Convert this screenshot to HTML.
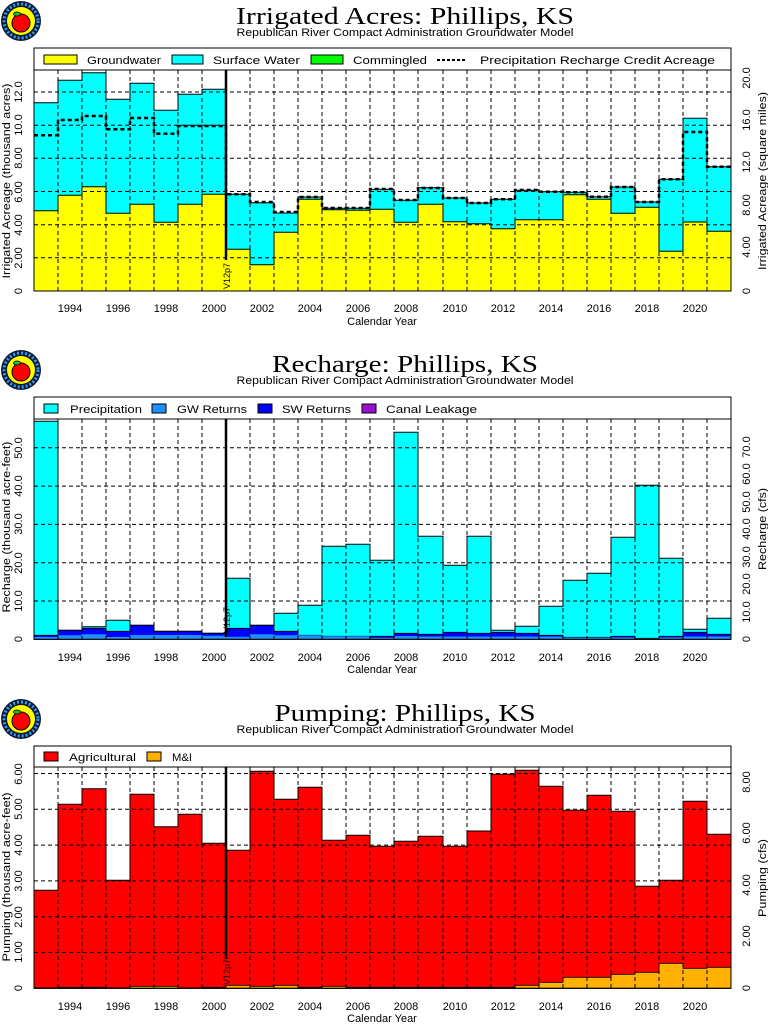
<!DOCTYPE html>
<html><head><meta charset="utf-8"><style>
html,body{margin:0;padding:0;background:#fff}
svg{display:block}
text{font-family:"Liberation Sans",sans-serif;fill:#000}
.t{font-family:"Liberation Serif",serif;font-size:24px}
.s{font-size:11px}
.k{font-size:11px}
.g{stroke:#000;stroke-width:1;stroke-dasharray:4,3;fill:none}
</style></head><body>
<svg width="768" height="1024" viewBox="0 0 768 1024" xmlns="http://www.w3.org/2000/svg">
<defs>
<g id="logo">
<circle cx="0" cy="0" r="20" fill="#101830"/>
<circle cx="0" cy="0" r="17" fill="none" stroke="#2aa0ff" stroke-width="3" stroke-dasharray="2,2"/>
<circle cx="0" cy="0" r="14" fill="#ffff00"/>
<circle cx="0" cy="2" r="9" fill="#ff0000" stroke="#000" stroke-width="1"/>
<ellipse cx="-4" cy="-7" rx="3.5" ry="2" fill="#20c020" stroke="#000" stroke-width="0.8"/>
</g>
</defs>

<!-- ========== CHART 1 ========== -->
<use href="#logo" x="21" y="21"/>
<text class="t" x="405" y="24" text-anchor="middle" textLength="338" lengthAdjust="spacingAndGlyphs">Irrigated Acres: Phillips, KS</text>
<text class="s" x="405" y="36" text-anchor="middle" textLength="337" lengthAdjust="spacingAndGlyphs">Republican River Compact Administration Groundwater Model</text>
<rect x="34" y="48" width="697" height="22" fill="#fff" stroke="#000"/>
<rect x="44" y="55" width="33" height="9" fill="#ffff00" stroke="#000"/>
<text class="k" x="87" y="64" textLength="74" lengthAdjust="spacingAndGlyphs">Groundwater</text>
<rect x="172" y="55" width="31" height="9" fill="#00ffff" stroke="#000"/>
<text class="k" x="213" y="64" textLength="87" lengthAdjust="spacingAndGlyphs">Surface Water</text>
<rect x="311" y="55" width="32" height="9" fill="#00ff00" stroke="#000"/>
<text class="k" x="353" y="64" textLength="74" lengthAdjust="spacingAndGlyphs">Commingled</text>
<line x1="437" y1="60" x2="467" y2="60" stroke="#000" stroke-width="2" stroke-dasharray="3,2"/>
<text class="k" x="480" y="64" textLength="235" lengthAdjust="spacingAndGlyphs">Precipitation Recharge Credit Acreage</text>

<path d="M34,291 V102.7 H58 V80.3 H82 V72.7 H106 V99.3 H130 V83.3 H154 V110.3 H178 V94.3 H202 V89.3 H226 V194.3 H250 V202.7 H274 V213 H298 V197 H322 V208.3 H346 V208.3 H370 V189.3 H394 V200.3 H418 V187.7 H443 V198 H467 V203 H491 V199.3 H515 V190.3 H539 V191.7 H563 V192.3 H587 V196.7 H611 V187 H635 V202 H659 V179.3 H683 V118.3 H707 V166.7 H731 V291 Z" fill="#00ffff" stroke="#000"/>
<path d="M34,291 V210.7 H58 V195.3 H82 V186.7 H106 V213.3 H130 V204.3 H154 V222.3 H178 V204.3 H202 V194.3 H226 V249.3 H250 V264.7 H274 V232.3 H298 V199.3 H322 V209.7 H346 V210.3 H370 V209.3 H394 V222.3 H418 V204.3 H443 V221.7 H467 V223.7 H491 V228.7 H515 V219.7 H539 V219.7 H563 V194.7 H587 V199.3 H611 V213.3 H635 V207.3 H659 V251.3 H683 V222 H707 V231.3 H731 V291 Z" fill="#ffff00" stroke="#000"/>
<g class="g">
<path d="M34,257.8H731M34,224.7H731M34,191.5H731M34,158.3H731M34,125.2H731M34,92H731"/>
<path d="M58,70V291M82,70V291M106,70V291M130,70V291M154,70V291M178,70V291M202,70V291M250,70V291M274,70V291M298,70V291M322,70V291M346,70V291M370,70V291M394,70V291M418,70V291M443,70V291M467,70V291M491,70V291M515,70V291M539,70V291M563,70V291M587,70V291M611,70V291M635,70V291M659,70V291M683,70V291M707,70V291"/>
</g>
<path d="M34,135.3 H58 V120 H82 V116 H106 V129.3 H130 V118 H154 V133.7 H178 V126 H226 V194.3 H250 V202 H274 V212 H298 V197 H322 V208 H370 V189 H394 V200 H418 V188 H443 V198 H467 V203 H491 V199.3 H515 V190 H539 V191.7 H563 V192.3 H587 V196.7 H611 V187 H635 V202 H659 V179.3 H683 V132 H707 V166.7 H731" fill="none" stroke="#000" stroke-width="2.5" stroke-dasharray="4,3"/>
<line x1="226" y1="70" x2="226" y2="260" stroke="#000" stroke-width="2.5"/>
<text x="230" y="276" font-size="9" text-anchor="middle" transform="rotate(-90 230 276)">V12p7</text>
<path d="M34,70V291M731,70V291" stroke="#000"/>
<g class="k" text-anchor="middle">
<text x="70" y="312">1994</text><text x="118" y="312">1996</text><text x="166" y="312">1998</text><text x="214" y="312">2000</text><text x="262" y="312">2002</text><text x="310" y="312">2004</text><text x="358" y="312">2006</text><text x="406" y="312">2008</text><text x="455" y="312">2010</text><text x="503" y="312">2012</text><text x="551" y="312">2014</text><text x="599" y="312">2016</text><text x="647" y="312">2018</text><text x="695" y="312">2020</text>
<text x="382" y="325">Calendar Year</text>
<text transform="translate(22,291) rotate(-90)">0</text>
<text transform="translate(22,258) rotate(-90)">2.00</text>
<text transform="translate(22,225) rotate(-90)">4.00</text>
<text transform="translate(22,192) rotate(-90)">6.00</text>
<text transform="translate(22,158) rotate(-90)">8.00</text>
<text transform="translate(22,125) rotate(-90)">10.0</text>
<text transform="translate(22,92) rotate(-90)">12.0</text>
<text transform="translate(10,181) rotate(-90)" textLength="195" lengthAdjust="spacingAndGlyphs">Irrigated Acreage (thousand acres)</text>
<text transform="translate(750,291) rotate(-90)">0</text>
<text transform="translate(750,247) rotate(-90)">4.00</text>
<text transform="translate(750,205) rotate(-90)">8.00</text>
<text transform="translate(750,162) rotate(-90)">12.0</text>
<text transform="translate(750,120) rotate(-90)">16.0</text>
<text transform="translate(750,78) rotate(-90)">20.0</text>
<text transform="translate(766,181) rotate(-90)" textLength="178" lengthAdjust="spacingAndGlyphs">Irrigated Acreage (square miles)</text>
</g>

<!-- ========== CHART 2 ========== -->
<use href="#logo" x="21" y="370"/>
<text class="t" x="405" y="372" text-anchor="middle" textLength="266" lengthAdjust="spacingAndGlyphs">Recharge: Phillips, KS</text>
<text class="s" x="405" y="384" text-anchor="middle" textLength="337" lengthAdjust="spacingAndGlyphs">Republican River Compact Administration Groundwater Model</text>
<rect x="34" y="397" width="697" height="22" fill="#fff" stroke="#000"/>
<rect x="44" y="404" width="14" height="9" fill="#00ffff" stroke="#000"/>
<text class="k" x="70" y="413" textLength="72" lengthAdjust="spacingAndGlyphs">Precipitation</text>
<rect x="152" y="404" width="14" height="9" fill="#1e90ff" stroke="#000"/>
<text class="k" x="177" y="413" textLength="70" lengthAdjust="spacingAndGlyphs">GW Returns</text>
<rect x="258" y="404" width="14" height="9" fill="#0000ff" stroke="#000"/>
<text class="k" x="282" y="413" textLength="69" lengthAdjust="spacingAndGlyphs">SW Returns</text>
<rect x="362" y="404" width="14" height="9" fill="#9a10d0" stroke="#000"/>
<text class="k" x="386" y="413" textLength="91" lengthAdjust="spacingAndGlyphs">Canal Leakage</text>

<path d="M34,639.3 V421.3 H58 V630.3 H82 V626.7 H106 V620.3 H130 V625.3 H154 V631.3 H178 V631.3 H202 V633.3 H226 V578.3 H250 V625.3 H274 V613.3 H298 V605.3 H322 V546.3 H346 V544.3 H370 V560.3 H394 V432.3 H418 V536.3 H443 V565.3 H467 V536.3 H491 V630.3 H515 V626.3 H539 V606.3 H563 V580.3 H587 V573.3 H611 V537.3 H635 V485.3 H659 V558.3 H683 V629.3 H707 V618.3 H731 V639.3 Z" fill="#00ffff" stroke="#000"/>
<path d="M34,639.3 V635.3 H58 V630.3 H82 V628.3 H106 V631.3 H130 V625.3 H154 V631.3 H178 V631.3 H202 V633.3 H226 V628.3 H250 V625.3 H274 V631.3 H298 V635.3 H322 V636.3 H370 V636.3 H394 V633.3 H418 V634.3 H443 V632.3 H467 V633.3 H491 V632.3 H515 V633.3 H539 V635.3 H563 V637.3 H611 V636.3 H635 V638.3 H659 V636.3 H683 V632.3 H707 V634.3 H731 V639.3 Z" fill="#0000ff" stroke="#000" stroke-width="0.8"/>
<path d="M34,639.3 V637 H58 V635.3 H82 V634.3 H106 V637 H130 V635 H202 V635.7 H226 V636.7 H250 V634.3 H274 V635.3 H322 V636.3 H370 V637.7 H394 V636 H418 V636.5 H563 V637.5 H635 V638.5 H659 V637.5 H683 V636.5 H731 V639.3 Z" fill="#1e90ff"/>
<g class="g">
<path d="M34,601H731M34,562.7H731M34,524.4H731M34,486.1H731M34,447.8H731"/>
<path d="M58,419V639M82,419V639M106,419V639M130,419V639M154,419V639M178,419V639M202,419V639M250,419V639M274,419V639M298,419V639M322,419V639M346,419V639M370,419V639M394,419V639M418,419V639M443,419V639M467,419V639M491,419V639M515,419V639M539,419V639M563,419V639M587,419V639M611,419V639M635,419V639M659,419V639M683,419V639M707,419V639"/>
</g>
<line x1="226" y1="419" x2="226" y2="637" stroke="#000" stroke-width="2.5"/>
<text x="230" y="620" font-size="9" text-anchor="middle" transform="rotate(-90 230 620)">V12p7</text>
<path d="M34,419V639.3H731V419" stroke="#000" fill="none"/>
<g class="k" text-anchor="middle">
<text x="70" y="661">1994</text><text x="118" y="661">1996</text><text x="166" y="661">1998</text><text x="214" y="661">2000</text><text x="262" y="661">2002</text><text x="310" y="661">2004</text><text x="358" y="661">2006</text><text x="406" y="661">2008</text><text x="455" y="661">2010</text><text x="503" y="661">2012</text><text x="551" y="661">2014</text><text x="599" y="661">2016</text><text x="647" y="661">2018</text><text x="695" y="661">2020</text>
<text x="382" y="673">Calendar Year</text>
<text transform="translate(22,639) rotate(-90)">0</text>
<text transform="translate(22,601) rotate(-90)">10.0</text>
<text transform="translate(22,563) rotate(-90)">20.0</text>
<text transform="translate(22,524) rotate(-90)">30.0</text>
<text transform="translate(22,486) rotate(-90)">40.0</text>
<text transform="translate(22,448) rotate(-90)">50.0</text>
<text transform="translate(10,527) rotate(-90)" textLength="171" lengthAdjust="spacingAndGlyphs">Recharge (thousand acre-feet)</text>
<text transform="translate(750,639) rotate(-90)">0</text>
<text transform="translate(750,612) rotate(-90)">10.0</text>
<text transform="translate(750,584) rotate(-90)">20.0</text>
<text transform="translate(750,557) rotate(-90)">30.0</text>
<text transform="translate(750,529) rotate(-90)">40.0</text>
<text transform="translate(750,502) rotate(-90)">50.0</text>
<text transform="translate(750,474) rotate(-90)">60.0</text>
<text transform="translate(750,447) rotate(-90)">70.0</text>
<text transform="translate(766,529) rotate(-90)" textLength="82" lengthAdjust="spacingAndGlyphs">Recharge (cfs)</text>
</g>

<!-- ========== CHART 3 ========== -->
<use href="#logo" x="21" y="719"/>
<text class="t" x="405" y="721" text-anchor="middle" textLength="261" lengthAdjust="spacingAndGlyphs">Pumping: Phillips, KS</text>
<text class="s" x="405" y="733" text-anchor="middle" textLength="337" lengthAdjust="spacingAndGlyphs">Republican River Compact Administration Groundwater Model</text>
<rect x="34" y="746" width="697" height="21" fill="#fff" stroke="#000"/>
<rect x="44" y="752" width="14" height="9" fill="#ff0000" stroke="#000"/>
<text class="k" x="69" y="761" textLength="67" lengthAdjust="spacingAndGlyphs">Agricultural</text>
<rect x="147" y="752" width="14" height="9" fill="#ffb000" stroke="#000"/>
<text class="k" x="172" y="761" textLength="20" lengthAdjust="spacingAndGlyphs">M&amp;I</text>

<path d="M34,988.3 V890.3 H58 V804.3 H82 V788.7 H106 V880.3 H130 V794.3 H154 V826.7 H178 V814.3 H202 V843.3 H226 V850.3 H250 V771.3 H274 V799.3 H298 V787.3 H322 V840.3 H346 V835.3 H370 V846.3 H394 V841.3 H418 V836.3 H443 V846.3 H467 V831 H491 V774.3 H515 V770.3 H539 V786.3 H563 V810.3 H587 V795.3 H611 V811.3 H635 V886.3 H659 V880.3 H683 V801.3 H707 V834.3 H731 V988.3 Z" fill="#ff0000" stroke="#000"/>
<path d="M34,988.3 V988 H58 V987.3 H106 V988 H130 V986.3 H178 V988 H202 V987.3 H226 V985.3 H250 V986.3 H274 V985.3 H298 V987.3 H322 V986.3 H346 V987.3 H515 V985.3 H539 V982.3 H563 V977.3 H611 V974.3 H635 V972.3 H659 V963.3 H683 V968.3 H707 V967.3 H731 V988.3 Z" fill="#ffb000" stroke="#000" stroke-width="0.8"/>
<g class="g">
<path d="M34,952.5H731M34,916.7H731M34,880.9H731M34,845.1H731M34,809.3H731M34,773.5H731"/>
<path d="M58,767V988M82,767V988M106,767V988M130,767V988M154,767V988M178,767V988M202,767V988M250,767V988M274,767V988M298,767V988M322,767V988M346,767V988M370,767V988M394,767V988M418,767V988M443,767V988M467,767V988M491,767V988M515,767V988M539,767V988M563,767V988M587,767V988M611,767V988M635,767V988M659,767V988M683,767V988M707,767V988"/>
</g>
<line x1="226" y1="767" x2="226" y2="959" stroke="#000" stroke-width="2.5"/>
<text x="230" y="972" font-size="9" text-anchor="middle" transform="rotate(-90 230 972)">V12p7</text>
<path d="M34,767V988.3H731V767" stroke="#000" fill="none"/>
<g class="k" text-anchor="middle">
<text x="70" y="1010">1994</text><text x="118" y="1010">1996</text><text x="166" y="1010">1998</text><text x="214" y="1010">2000</text><text x="262" y="1010">2002</text><text x="310" y="1010">2004</text><text x="358" y="1010">2006</text><text x="406" y="1010">2008</text><text x="455" y="1010">2010</text><text x="503" y="1010">2012</text><text x="551" y="1010">2014</text><text x="599" y="1010">2016</text><text x="647" y="1010">2018</text><text x="695" y="1010">2020</text>
<text x="382" y="1022">Calendar Year</text>
<text transform="translate(22,988) rotate(-90)">0</text>
<text transform="translate(22,952) rotate(-90)">1.00</text>
<text transform="translate(22,917) rotate(-90)">2.00</text>
<text transform="translate(22,881) rotate(-90)">3.00</text>
<text transform="translate(22,845) rotate(-90)">4.00</text>
<text transform="translate(22,809) rotate(-90)">5.00</text>
<text transform="translate(22,774) rotate(-90)">6.00</text>
<text transform="translate(10,877) rotate(-90)" textLength="169" lengthAdjust="spacingAndGlyphs">Pumping (thousand acre-feet)</text>
<text transform="translate(750,988) rotate(-90)">0</text>
<text transform="translate(750,936) rotate(-90)">2.00</text>
<text transform="translate(750,885) rotate(-90)">4.00</text>
<text transform="translate(750,833) rotate(-90)">6.00</text>
<text transform="translate(750,782) rotate(-90)">8.00</text>
<text transform="translate(766,878) rotate(-90)" textLength="78" lengthAdjust="spacingAndGlyphs">Pumping (cfs)</text>
</g>
</svg>
</body></html>
